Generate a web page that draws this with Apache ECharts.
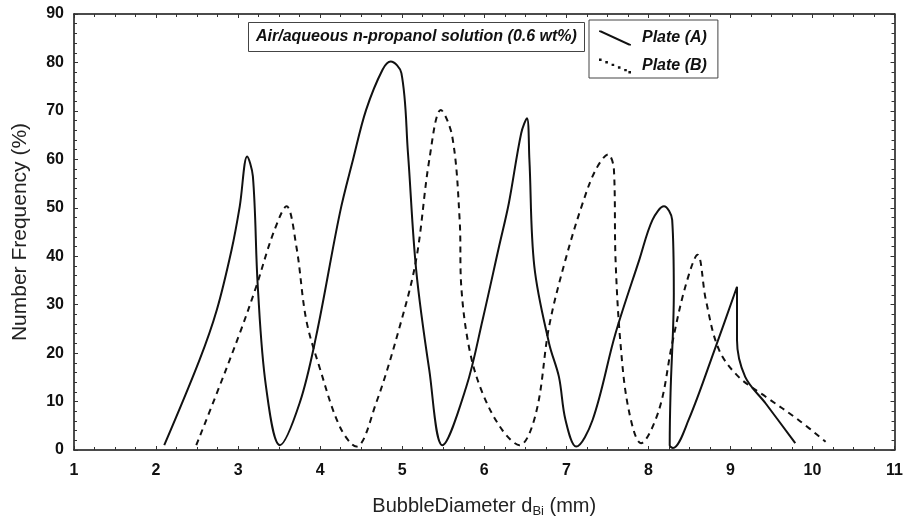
<!DOCTYPE html>
<html>
<head>
<meta charset="utf-8">
<script src="https://cdn.jsdelivr.net/npm/echarts@6/dist/echarts.min.js"></script>
<style>
html,body{margin:0;padding:0;background:#fff;}
#chart{width:906px;height:530px;}
</style>
</head>
<body>
<div id="chart"></div>
<script>
// Bubble diameter (mm) and number frequency (%)
var plateA_d = [2.10,2.53,2.74,2.92,3.02,3.11,3.18,3.24,3.34,3.51,3.75,3.95,4.24,4.40,4.56,4.76,4.86,4.99,5.07,5.17,5.33,5.49,5.78,5.98,6.18,6.30,6.45,6.52,6.55,6.61,6.79,6.91,6.99,7.12,7.32,7.60,7.89,8.05,8.19,8.29,8.31,8.27,8.26,8.30,8.49,8.82,9.08,9.08,9.18,9.43,9.79];
var plateA_f = [1.0,18.6,28.9,41.3,50.3,60.6,56.5,33.7,13.1,1.0,9.7,23.4,48.9,59.9,70.2,78.5,80.2,77.8,61.3,37.2,16.5,1.0,13.0,26.9,42.0,51.0,65.4,68.5,59.9,37.9,22.0,15.1,6.2,0.7,6.2,24.1,39.3,47.5,50.3,47.5,32.4,11.7,1.0,0.4,6.2,21.3,33.7,22.7,15.1,9.6,1.4];
var plateB_d = [2.49,2.74,3.02,3.22,3.43,3.59,3.71,3.83,3.99,4.24,4.44,4.68,4.97,5.17,5.33,5.47,5.61,5.70,5.72,5.82,5.98,6.22,6.43,6.63,6.79,6.99,7.20,7.36,7.51,7.58,7.60,7.66,7.76,7.91,8.13,8.29,8.45,8.60,8.70,8.86,9.10,9.43,9.83,10.16];
var plateB_f = [1.0,11.7,24.1,33.7,44.8,50.3,42.0,26.9,17.2,4.8,0.7,9.6,25.5,39.3,59.9,70.2,64.7,47.5,33.7,20.7,11.7,4.1,1.0,7.6,25.5,39.3,51.0,57.9,61.0,57.9,39.3,22.0,8.3,1.4,8.3,22.0,33.7,40.3,31.0,20.7,15.1,11.0,6.2,1.7];
var seriesNames = ['Plate (A)', 'Plate (B)'];
var titleText = 'Air/aqueous n-propanol solution (0.6 wt%)';
var xTicks = [1,2,3,4,5,6,7,8,9,10,11];
var yTicks = [0,10,20,30,40,50,60,70,80,90];

function pairs(xs, ys){ return xs.map(function(x,i){ return [x, ys[i]]; }); }

var chart = echarts.init(document.getElementById('chart'), null, {renderer:'canvas'});
var labelFont = {color:'#111', fontFamily:'Liberation Sans, Arial, sans-serif', fontWeight:'bold', fontSize:16};
var nameFam = 'Liberation Sans, Arial, sans-serif';

function axisCommon(show){
  return {
    axisLine:{show:true, onZero:false, lineStyle:{color:'#111', width:1.5}},
    axisTick:{show:true, inside:true, length:4, lineStyle:{color:'#333', width:1}},
    minorTick:{show:true, length:3, lineStyle:{color:'#333', width:1}},
    splitLine:{show:false},
    axisLabel:Object.assign({show:show}, labelFont)
  };
}

var solidIcon = 'path://M0,0 L2.2,0 L32,13.8 L32,15 L29.8,15 L0,1.2 Z';
var dotIcon = 'path://M0,0 L2.6,0 L2.6,2.4 L0,2.4 Z M6.3,2.6 L8.9,2.6 L8.9,5 L6.3,5 Z M12.6,5.2 L15.2,5.2 L15.2,7.6 L12.6,7.6 Z M18.9,7.8 L21.5,7.8 L21.5,10.2 L18.9,10.2 Z M25.2,10.4 L27.8,10.4 L27.8,12.8 L25.2,12.8 Z M29.4,12.6 L32,12.6 L32,15 L29.4,15 Z';

var option = {
  backgroundColor:'#fff',
  animation:false,
  title:{
    text:titleText,
    left:248, top:22,
    padding:[5,8,5,8],
    borderColor:'#444', borderWidth:1,
    textStyle:{fontFamily:'Liberation Sans, Arial, sans-serif', fontStyle:'italic', fontWeight:'bold', fontSize:16, color:'#111', lineHeight:20}
  },
  legend:{
    orient:'vertical',
    left:589, top:20,
    padding:[10,11,4,10],
    itemGap:12,
    itemWidth:32, itemHeight:15,
    borderColor:'#444', borderWidth:1,
    textStyle:{fontFamily:'Liberation Sans, Arial, sans-serif', fontStyle:'italic', fontWeight:'bold', fontSize:16, color:'#111', padding:[0,0,0,6]},
    data:[{name:seriesNames[0], icon:solidIcon, itemStyle:{color:'#111'}}, {name:seriesNames[1], icon:dotIcon, itemStyle:{color:'#111'}}]
  },
  grid:{left:74, right:10, top:14, bottom:80},
  xAxis:[
    Object.assign(axisCommon(true), {
      type:'value', min:xTicks[0], max:xTicks[xTicks.length-1], interval:1, position:'bottom',
      minorTick:{show:true, splitNumber:4, length:3, lineStyle:{color:'#333'}},
      axisLabel:Object.assign({margin:13}, labelFont),
      name:'BubbleDiameter d{sub|Bi} (mm)', nameLocation:'middle', nameGap:45,
      nameTextStyle:{fontFamily:nameFam, fontSize:20, color:'#222', rich:{sub:{fontFamily:nameFam, fontSize:13, color:'#222', verticalAlign:'bottom', padding:[10,0,0,0]}}}
    }),
    Object.assign(axisCommon(false), {
      type:'value', min:xTicks[0], max:xTicks[xTicks.length-1], interval:1, position:'top',
      minorTick:{show:true, splitNumber:4, length:3, lineStyle:{color:'#333'}}
    })
  ],
  yAxis:[
    Object.assign(axisCommon(true), {
      type:'value', min:yTicks[0], max:yTicks[yTicks.length-1], interval:10, position:'left',
      minorTick:{show:true, splitNumber:5, length:3, lineStyle:{color:'#333'}},
      axisLabel:Object.assign({margin:10}, labelFont),
      name:'Number Frequency (%)', nameLocation:'middle', nameGap:43,
      nameTextStyle:{fontFamily:nameFam, fontSize:21, color:'#222'}
    }),
    Object.assign(axisCommon(false), {
      type:'value', min:yTicks[0], max:yTicks[yTicks.length-1], interval:10, position:'right',
      minorTick:{show:true, splitNumber:5, length:3, lineStyle:{color:'#333'}}
    })
  ],
  series:[
    {name:seriesNames[0], type:'line', data:pairs(plateA_d, plateA_f), smooth:0.35, showSymbol:false,
     lineStyle:{color:'#111', width:2, type:'solid'}, itemStyle:{color:'#111'}},
    {name:seriesNames[1], type:'line', data:pairs(plateB_d, plateB_f), smooth:0.35, showSymbol:false,
     lineStyle:{color:'#111', width:2, type:[6,5]}, itemStyle:{color:'#111'}}
  ]
};
chart.setOption(option);
</script>
</body>
</html>
